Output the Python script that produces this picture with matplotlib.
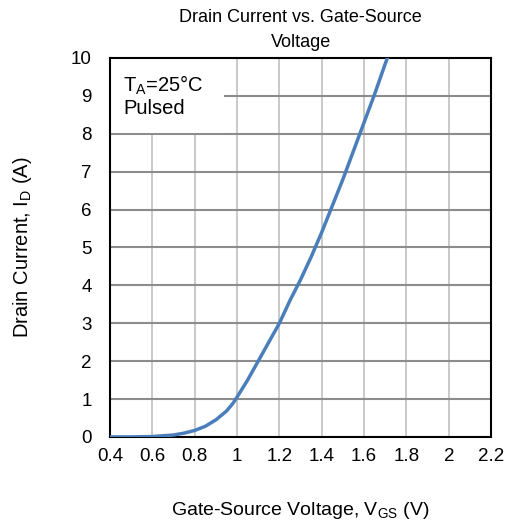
import numpy as np
import matplotlib.pyplot as plt
from matplotlib.patches import Rectangle

plt.rcParams['font.family'] = ['Liberation Sans', 'DejaVu Sans']

# Vgs (V) and Id (A)
vgs = [0.4, 0.5, 0.6, 0.7, 0.75, 0.8, 0.85, 0.9, 0.95, 0.98, 1.0, 1.05, 1.1,
       1.15, 1.2, 1.25, 1.3, 1.35, 1.4, 1.45, 1.5, 1.55, 1.6, 1.65, 1.7, 1.72]
i_d = [0.0, 0.0, 0.01, 0.05, 0.1, 0.17, 0.28, 0.45, 0.68, 0.88, 1.05, 1.5, 2.0,
       2.5, 3.0, 3.6, 4.15, 4.75, 5.4, 6.1, 6.8, 7.55, 8.3, 9.05, 9.85, 10.15]

xticks = [0.4, 0.6, 0.8, 1, 1.2, 1.4, 1.6, 1.8, 2, 2.2]
xtick_labels = ['0.4', '0.6', '0.8', '1', '1.2', '1.4', '1.6', '1.8', '2', '2.2']
yticks = list(range(0, 11))

fig = plt.figure(figsize=(5.09, 5.22), dpi=100)
ax = fig.add_axes([0.216, 0.163, 0.749, 0.726])

for x in xticks[1:-1]:
    ax.axvline(x, color='#c0c0c0', lw=1.2, zorder=1)
for y in yticks[1:-1]:
    ax.axhline(y, color='#8c8c8c', lw=1.5, zorder=1)

ax.plot(vgs, i_d, color='#4a7ebb', lw=2.5, zorder=3, solid_capstyle='round')

ax.set_xlim(0.4, 2.2)
ax.set_ylim(0, 10)
ax.set_xticks(xticks)
ax.set_xticklabels(xtick_labels)
ax.set_yticks(yticks)
ax.tick_params(length=0, labelsize=13.5)
ax.tick_params(axis='y', pad=13)
ax.tick_params(axis='x', pad=8)
for s in ax.spines.values():
    s.set_linewidth(1.5)

ax.set_title('Drain Current vs. Gate-Source\nVoltage', fontsize=13, pad=8,
             linespacing=1.6)
ax.set_xlabel('Gate-Source Voltage, V$_{\\mathregular{GS}}$ (V)', fontsize=14,
              labelpad=25)
ax.set_ylabel('Drain Current, I$_{\\mathregular{D}}$ (A)', fontsize=14.5, labelpad=27)

# white label box over the grid, top-left
ax.add_patch(Rectangle((0, 0.802), 0.30, 0.198, transform=ax.transAxes,
                       fc='white', ec='none', zorder=2))
ax.text(0.034, 0.958, 'T$_{\\mathregular{A}}$=25°C\nPulsed', transform=ax.transAxes,
        fontsize=14.5, va='top', ha='left', linespacing=1.1, zorder=4)

fig.savefig('out.png', dpi=100)
